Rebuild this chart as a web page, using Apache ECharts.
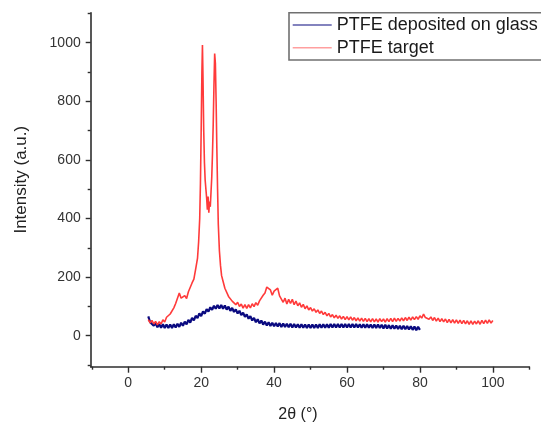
<!DOCTYPE html>
<html>
<head>
<meta charset="utf-8">
<script src="https://cdn.jsdelivr.net/npm/echarts@6/dist/echarts.min.js"></script>
<style>html,body{margin:0;padding:0;background:#fff}#c{width:541px;height:428px}</style>
</head>
<body>
<div id="c"></div>
<script>
// Legend / series names
const seriesNames = ['PTFE deposited on glass', 'PTFE target'];
// Axis ticks
const xMajorTicks = [0, 20, 40, 60, 80, 100];
const xMinorTicks = [-10, 10, 30, 50, 70, 90, 110];
const yMajorTicks = [0, 200, 400, 600, 800, 1000];
const yMinorTicks = [-100, 100, 300, 500, 700, 900, 1100];

// PTFE deposited on glass: [2θ, intensity] (noisy trace)
const glassData = [
[5.5,66],[6,46],[6.5,51],[7,34],[7.5,43],[8,29],[8.5,40],[9,27],[9.5,39],[10,26],
[10.5,38],[11,26],[11.5,38],[12,26],[12.5,39],[13,28],[13.5,41],[14,30],[14.5,44],[15,34],
[15.5,48],[16,39],[16.5,54],[17,45],[17.5,61],[18,52],[18.5,68],[19,60],[19.5,76],[20,67],
[20.5,83],[21,75],[21.5,91],[22,82],[22.5,97],[23,88],[23.5,102],[24,92],[24.5,105],[25,93],
[25.5,105],[26,92],[26.5,103],[27,89],[27.5,99],[28,85],[28.5,95],[29,81],[29.5,90],[30,76],
[30.5,85],[31,70],[31.5,79],[32,64],[32.5,73],[33,58],[33.5,67],[34,52],[34.5,61],[35,46],
[35.5,56],[36,42],[36.5,52],[37,38],[37.5,48],[38,35],[38.5,46],[39,33],[39.5,44],[40,32],
[40.5,43],[41,31],[41.5,43],[42,30],[42.5,42],[43,30],[43.5,41],[44,29],[44.5,41],[45,28],
[45.5,40],[46,28],[46.5,39],[47,27],[47.5,39],[48,27],[48.5,38],[49,26],[49.5,38],[50,26],
[50.5,38],[51,26],[51.5,38],[52,26],[52.5,39],[53,27],[53.5,39],[54,27],[54.5,39],[55,27],
[55.5,40],[56,28],[56.5,40],[57,28],[57.5,40],[58,28],[58.5,40],[59,28],[59.5,40],[60,28],
[60.5,40],[61,28],[61.5,40],[62,28],[62.5,40],[63,28],[63.5,39],[64,27],[64.5,39],[65,27],
[65.5,39],[66,27],[66.5,38],[67,26],[67.5,38],[68,26],[68.5,38],[69,26],[69.5,37],[70,25],
[70.5,37],[71,25],[71.5,36],[72,24],[72.5,36],[73,24],[73.5,35],[74,23],[74.5,34],[75,22],
[75.5,34],[76,22],[76.5,33],[77,21],[77.5,32],[78,20],[78.5,31],[79,19],[79.5,30],[80,20]
];

// PTFE target: [2θ, intensity] (noisy trace)
const targetData = [
[5.5,55],[6,44],[6.5,52],[7,40],[7.5,49],[8,37],[8.5,48],[9,40],[9.5,54],[10,47],
[10.5,63],[11,57],[11.5,74],[12,74],[12.5,95],[13,110],[13.5,128],[14,146],[14.5,128],[15,124],
[15.5,137],[16,127],[16.5,150],[17,155],[17.5,180],[18,193],[18.5,228],[19,265],[19.3,320],[19.6,400],
[19.8,520],[20,700],[20.2,900],[20.35,992],[20.5,880],[20.7,700],[20.9,590],[21.1,530],[21.3,500],[21.5,470],
[21.7,430],[21.9,475],[22.1,420],[22.3,458],[22.5,440],[22.7,490],[22.9,540],[23.1,620],[23.3,720],[23.5,850],
[23.7,963],[23.9,930],[24.1,800],[24.3,640],[24.5,500],[24.7,380],[25,290],[25.3,240],[25.6,205],[26,186],
[26.5,162],[27,158],[27.5,134],[28,132],[28.5,118],[29,120],[29.5,106],[30,114],[30.5,100],[31,108],
[31.5,94],[32,106],[32.5,93],[33,106],[33.5,95],[34,109],[34.5,99],[35,113],[35.5,104],[36,119],
[36.5,118],[37,138],[37.5,146],[38,166],[38.5,160],[39,156],[39.5,138],[40,152],[40.5,158],[41,162],
[41.5,136],[42,132],[42.5,114],[43,128],[43.5,108],[44,124],[44.5,110],[45,124],[45.5,106],[46,118],
[46.5,102],[47,112],[47.5,97],[48,107],[48.5,92],[49,102],[49.5,88],[50,96],[50.5,84],[51,92],
[51.5,80],[52,88],[52.5,76],[53,84],[53.5,72],[54,80],[54.5,68],[55,76],[55.5,64],[56,72],
[56.5,61],[57,70],[57.5,59],[58,68],[58.5,57],[59,66],[59.5,55],[60,65],[60.5,54],[61,64],
[61.5,53],[62,62],[62.5,51],[63,61],[63.5,50],[64,60],[64.5,49],[65,59],[65.5,48],[66,58],
[66.5,47],[67,58],[67.5,47],[68,57],[68.5,46],[69,58],[69.5,48],[70,57],[70.5,46],[71,58],
[71.5,48],[72,59],[72.5,48],[73,60],[73.5,49],[74,59],[74.5,50],[75,61],[75.5,51],[76,62],
[76.5,52],[77,63],[77.5,53],[78,64],[78.5,55],[79,65],[79.5,56],[80,68],[80.5,60],[81,74],
[81.5,62],[82,68],[82.5,56],[83,64],[83.5,52],[84,62],[84.5,50],[85,60],[85.5,48],[86,58],
[86.5,47],[87,57],[87.5,45],[88,56],[88.5,44],[89,55],[89.5,43],[90,54],[90.5,42],[91,53],
[91.5,41],[92,52],[92.5,40],[93,51],[93.5,39],[94,51],[94.5,39],[95,50],[95.5,40],[96,51],
[96.5,39],[97,52],[97.5,41],[98,53],[98.5,42],[99,54],[99.5,43],[100,52]
];

const FONT = '"Liberation Sans", Arial, sans-serif';
const AXIS_COLOR = '#2e2e2e';
const chart = echarts.init(document.getElementById('c'), null, {renderer: 'canvas'});

const baseX = {type: 'value', min: -10.3, max: 110, gridIndex: 0, splitLine: {show: false}};
const baseY = {type: 'value', min: -105.8, max: 1102.4, gridIndex: 0, splitLine: {show: false}};
const plain = v => String(v);

chart.setOption({
  animation: false,
  backgroundColor: '#fff',
  grid: {left: 90.7, right: 11.7, top: 12.7, bottom: 61.3, containLabel: false},
  graphic: [{
    type: 'rect', z: 50, silent: true,
    shape: {x: 289, y: 12.7, width: 300, height: 47.3},
    style: {fill: '#fff', stroke: '#707070', lineWidth: 1.6}
  }],
  legend: {
    orient: 'vertical',
    left: 289, top: 12.7,
    padding: [3.3, 0, 3.3, 3.7],
    itemGap: 4.7,
    itemWidth: 39, itemHeight: 1.6,
    borderWidth: 0,
    z: 60,
    textStyle: {fontFamily: FONT, fontSize: 18, color: '#1a1a1a', lineHeight: 18},
    data: [
      {name: seriesNames[0], icon: 'rect', itemStyle: {color: '#5a5aa8'}},
      {name: seriesNames[1], icon: 'rect', itemStyle: {color: '#ff9f9f'}}
    ]
  },
  xAxis: [
    Object.assign({}, baseX, {
      position: 'bottom',
      name: '2θ (°)', nameLocation: 'middle', nameGap: 40,
      nameTextStyle: {fontFamily: FONT, fontSize: 16, color: '#222', padding: [0, 24, 0, 0]},
      axisLine: {show: true, onZero: false, lineStyle: {color: AXIS_COLOR, width: 1.6}},
      axisTick: {show: true, inside: false, length: 6, customValues: xMajorTicks, lineStyle: {color: AXIS_COLOR, width: 1.4}},
      axisLabel: {show: true, margin: 9, customValues: xMajorTicks, formatter: plain, fontFamily: FONT, fontSize: 14, color: '#333'}
    }),
    Object.assign({}, baseX, {
      position: 'bottom',
      axisLine: {show: false, onZero: false},
      axisTick: {show: true, inside: false, length: 3, customValues: xMinorTicks, lineStyle: {color: AXIS_COLOR, width: 1.4}},
      axisLabel: {show: false}
    })
  ],
  yAxis: [
    Object.assign({}, baseY, {
      position: 'left',
      name: 'Intensity (a.u.)', nameLocation: 'middle', nameGap: 61,
      nameTextStyle: {fontFamily: FONT, fontSize: 17, color: '#222', padding: [0, 0, 0, 20]},
      axisLine: {show: true, onZero: false, lineStyle: {color: AXIS_COLOR, width: 1.6}},
      axisTick: {show: true, inside: false, length: 5, customValues: yMajorTicks, lineStyle: {color: AXIS_COLOR, width: 1.4}},
      axisLabel: {show: true, margin: 10, customValues: yMajorTicks, formatter: plain, fontFamily: FONT, fontSize: 14, color: '#333'}
    }),
    Object.assign({}, baseY, {
      position: 'left',
      axisLine: {show: false, onZero: false},
      axisTick: {show: true, inside: false, length: 3, customValues: yMinorTicks, lineStyle: {color: AXIS_COLOR, width: 1.4}},
      axisLabel: {show: false}
    })
  ],
  series: [
    {
      name: seriesNames[0], type: 'line', xAxisIndex: 0, yAxisIndex: 0,
      data: glassData, showSymbol: false, symbol: 'none',
      lineStyle: {color: '#0a0a80', width: 2.2},
      itemStyle: {color: '#0a0a80'}, z: 2
    },
    {
      name: seriesNames[1], type: 'line', xAxisIndex: 0, yAxisIndex: 0,
      data: targetData, showSymbol: false, symbol: 'none',
      lineStyle: {color: '#ff3a3a', width: 1.6},
      itemStyle: {color: '#ff3a3a'}, z: 3
    }
  ]
});
</script>
</body>
</html>
